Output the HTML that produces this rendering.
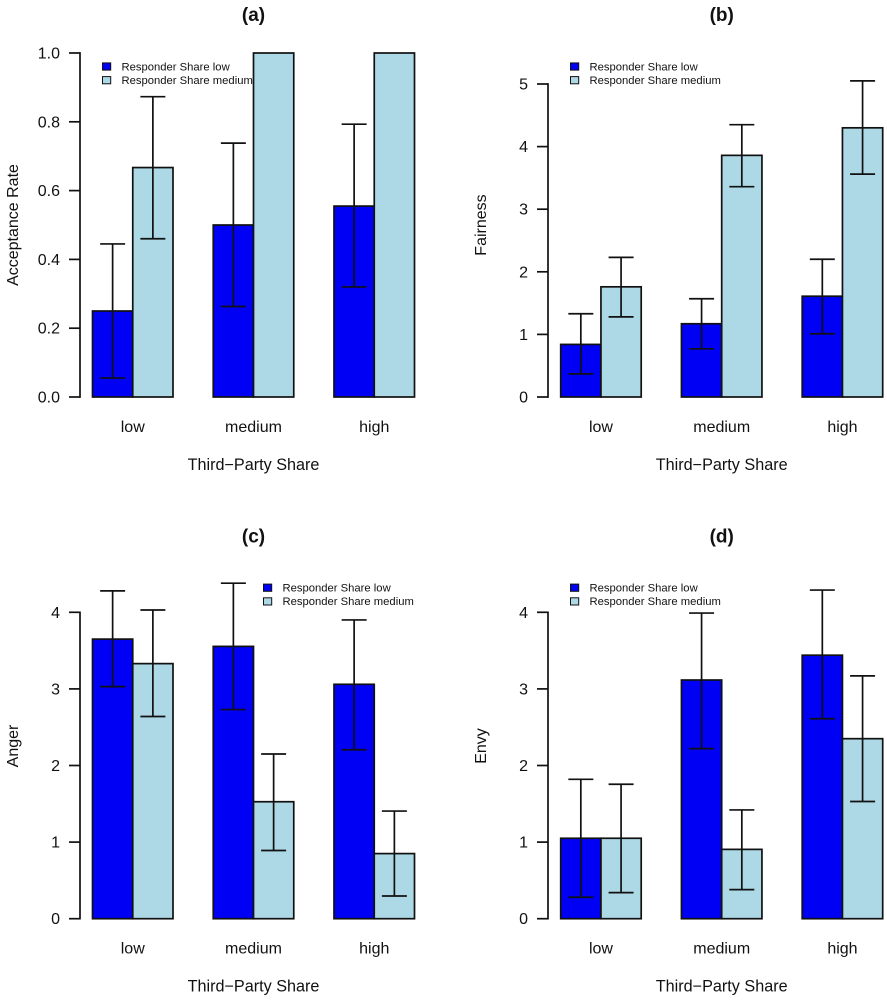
<!DOCTYPE html>
<html>
<head>
<meta charset="utf-8">
<title>Responder ratings by third-party share</title>
<style>
html,body{margin:0;padding:0;background:#fff;}
svg{display:block;font-family:"Liberation Sans",sans-serif;}
text{fill:#111;}
</style>
</head>
<body>
<svg id="chart" xmlns="http://www.w3.org/2000/svg" width="887" height="1000" viewBox="0 0 887 1000"></svg>
<script>
const categories = ['low', 'medium', 'high'];
const seriesNames = ['Responder Share low', 'Responder Share medium'];

const aLow = [0.25, 0.5, 0.555];
const aMedium = [0.667, 1, 1];
const aLowErrLower = [0.055, 0.263, 0.32];
const aLowErrUpper = [0.445, 0.738, 0.793];
const aMediumErrLower = [0.46, 1, 1];
const aMediumErrUpper = [0.873, 1, 1];
const aTicks = ['0.0', '0.2', '0.4', '0.6', '0.8', '1.0'];

const bLow = [0.84, 1.17, 1.61];
const bMedium = [1.76, 3.86, 4.3];
const bLowErrLower = [0.37, 0.77, 1.01];
const bLowErrUpper = [1.33, 1.57, 2.2];
const bMediumErrLower = [1.28, 3.36, 3.56];
const bMediumErrUpper = [2.23, 4.35, 5.05];
const bTicks = ['0', '1', '2', '3', '4', '5'];

const cLow = [3.65, 3.555, 3.06];
const cMedium = [3.33, 1.527, 0.85];
const cLowErrLower = [3.03, 2.73, 2.206];
const cLowErrUpper = [4.28, 4.38, 3.9];
const cMediumErrLower = [2.64, 0.89, 0.296];
const cMediumErrUpper = [4.03, 2.15, 1.405];
const cTicks = ['0', '1', '2', '3', '4'];

const dLow = [1.05, 3.116, 3.44];
const dMedium = [1.05, 0.905, 2.35];
const dLowErrLower = [0.28, 2.22, 2.61];
const dLowErrUpper = [1.82, 3.99, 4.29];
const dMediumErrLower = [0.34, 0.38, 1.53];
const dMediumErrUpper = [1.755, 1.42, 3.17];
const dTicks = ['0', '1', '2', '3', '4'];

const svg = document.getElementById('chart');
const NS = 'http://www.w3.org/2000/svg';
const INK = '#111';
const COLORS = ['#0000f5', '#add8e6'];

function make(parent, tag, attrs, txt) {
  const el = document.createElementNS(NS, tag);
  for (const k in attrs) el.setAttribute(k, attrs[k]);
  if (txt !== undefined) el.textContent = txt;
  parent.appendChild(el);
  return el;
}

function drawPanel(p) {
  const yScale = v => p.y0 - (v - p.tickMin) * p.unit;
  const xBand = u => p.barStart + u * 40.25;

  const panel = make(svg, 'g', {});
  
  

  const title = make(panel, 'text', {x: xBand(4), y: p.y0 - 376, 'text-anchor': 'middle', 'font-size': 19, 'font-weight': 'bold'}, p.title);
  
  

  const yAxis = make(panel, 'g', {stroke: INK, 'stroke-width': 1.7, fill: 'none'});
  
  
  const top = yScale(+p.ticks[p.ticks.length - 1]);
  make(yAxis, 'line', {x1: p.axisX, x2: p.axisX, y1: p.y0 + 0.85, y2: top - 0.85});

  p.ticks.forEach(t => {
    const y = yScale(+t);
    const tick = make(yAxis, 'line', {x1: p.axisX - 11, x2: p.axisX, y1: y, y2: y});
    
    
    const label = make(panel, 'text', {x: p.axisX - 20, y: y + 5.5, 'text-anchor': 'end', 'font-size': 16}, t);
    
    
  });

  const yTitleX = p.axisX - 62;
  const yTitle = make(panel, 'text', {x: yTitleX, y: p.yTitleY, 'text-anchor': 'middle', 'font-size': 16, transform: 'rotate(-90 ' + yTitleX + ' ' + p.yTitleY + ')'}, p.yLabel);
  
  

  categories.forEach((cat, i) => {
    const groupStart = i * 3;
    [p.low, p.medium].forEach((vals, s) => {
      const bar = make(panel, 'rect', {
        x: xBand(groupStart + s),
        y: yScale(vals[i]),
        width: 40.25,
        height: p.y0 - yScale(vals[i]),
        fill: COLORS[s],
        stroke: INK,
        'stroke-width': 1.7
      });
      
      
    });
  });

  categories.forEach((cat, i) => {
    const groupStart = i * 3;
    [[p.lowLo, p.lowHi], [p.medLo, p.medHi]].forEach((pair, s) => {
      const lo = pair[0][i], hi = pair[1][i];
      if (lo === hi) return;
      const cx = xBand(groupStart + s + 0.5);
      const err = make(panel, 'g', {stroke: INK, 'stroke-width': 1.7, fill: 'none'});
      
      
      make(err, 'line', {x1: cx, x2: cx, y1: yScale(lo), y2: yScale(hi)});
      make(err, 'line', {x1: cx - 12.5, x2: cx + 12.5, y1: yScale(lo), y2: yScale(lo)});
      make(err, 'line', {x1: cx - 12.5, x2: cx + 12.5, y1: yScale(hi), y2: yScale(hi)});
    });

    const catLabel = make(panel, 'text', {x: xBand(groupStart + 1), y: p.y0 + 35, 'text-anchor': 'middle', 'font-size': 16}, cat);
    
    
  });

  const xTitle = make(panel, 'text', {x: xBand(4), y: p.y0 + 73, 'text-anchor': 'middle', 'font-size': 16.2}, 'Third\u2212Party Share');
  
  

  const legend = make(panel, 'g', {});
  
  
  seriesNames.forEach((name, s) => {
    const cy = p.legendY + s * 13.7;
    const swatch = make(legend, 'rect', {x: p.legendX, y: cy - 3.6, width: 8.2, height: 7.2, fill: COLORS[s], stroke: INK, 'stroke-width': 1});
    
    
    const entry = make(legend, 'text', {x: p.legendX + 19, y: cy + 3.8, 'font-size': 11.25}, name);
    
    
  });
}

drawPanel({id: 'a', title: '(a)', yLabel: 'Acceptance Rate', ticks: aTicks, tickMin: 0, unit: 344, y0: 397, axisX: 80, barStart: 92.5, yTitleY: 225, legendX: 102.5, legendY: 66.5,
  low: aLow, medium: aMedium, lowLo: aLowErrLower, lowHi: aLowErrUpper, medLo: aMediumErrLower, medHi: aMediumErrUpper});
drawPanel({id: 'b', title: '(b)', yLabel: 'Fairness', ticks: bTicks, tickMin: 0, unit: 62.6, y0: 397, axisX: 548, barStart: 560.7, yTitleY: 225, legendX: 570.5, legendY: 66.5,
  low: bLow, medium: bMedium, lowLo: bLowErrLower, lowHi: bLowErrUpper, medLo: bMediumErrLower, medHi: bMediumErrUpper});
drawPanel({id: 'c', title: '(c)', yLabel: 'Anger', ticks: cTicks, tickMin: 0, unit: 76.6, y0: 918.7, axisX: 80, barStart: 92.5, yTitleY: 746, legendX: 263.5, legendY: 587.7,
  low: cLow, medium: cMedium, lowLo: cLowErrLower, lowHi: cLowErrUpper, medLo: cMediumErrLower, medHi: cMediumErrUpper});
drawPanel({id: 'd', title: '(d)', yLabel: 'Envy', ticks: dTicks, tickMin: 0, unit: 76.6, y0: 918.7, axisX: 548, barStart: 560.7, yTitleY: 746, legendX: 570.5, legendY: 587.7,
  low: dLow, medium: dMedium, lowLo: dLowErrLower, lowHi: dLowErrUpper, medLo: dMediumErrLower, medHi: dMediumErrUpper});
</script>
</body>
</html>
